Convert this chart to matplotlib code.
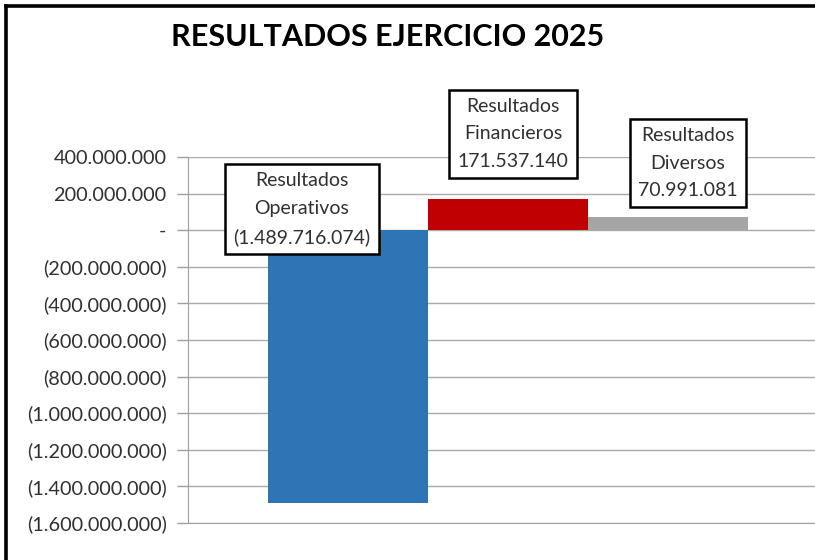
import matplotlib
matplotlib.use("Agg")
import matplotlib.pyplot as plt
from matplotlib.lines import Line2D
from matplotlib.ticker import FuncFormatter
import numpy as np

title = "RESULTADOS EJERCICIO 2025"
series_names = ["Resultados\nOperativos", "Resultados\nFinancieros", "Resultados\nDiversos"]
values = [-1489716074, 171537140, 70991081]
colors = ["#2E75B6", "#C00000", "#A5A5A5"]
yticks = [400e6, 200e6, 0, -200e6, -400e6, -600e6, -800e6, -1000e6, -1200e6, -1400e6, -1600e6]

plt.rcParams['font.family'] = ['Lato', 'DejaVu Sans']

W, H = 815, 560
fig = plt.figure(figsize=(W / 100, H / 100), dpi=100, facecolor='white', edgecolor='white')

def fmt_num(v):
    s = f"{abs(int(round(v))):,}".replace(",", ".")
    if v < 0:
        return f"({s})"
    if v == 0:
        return "-"
    return s

left_px, right_px, top_px, bot_px = 188, 815, 157, 523
px_per_unit = 160.0
ax = fig.add_axes([left_px / W, 1 - bot_px / H, (right_px - left_px) / W, (bot_px - top_px) / H])

x = np.arange(len(values))
ax.bar(x, values, width=1.0, color=colors, zorder=2)
ax.set_xlim(-1, -1 + (right_px - left_px) / px_per_unit)
ax.set_ylim(-1600e6, 400e6)
ax.set_yticks(yticks)
ax.yaxis.set_major_formatter(FuncFormatter(lambda v, p: fmt_num(v)))
ax.set_xticks([])
ax.grid(axis='y', color='#ABABAB', linewidth=1.0, zorder=0)
for s in ['top', 'right']:
    ax.spines[s].set_visible(False)
ax.spines['left'].set_color('#A0A0A0')
ax.spines['bottom'].set_color('#A0A0A0')
ax.tick_params(axis='y', length=8, width=1, color='#A0A0A0', labelsize=14.3,
               labelcolor='#303030', pad=7.4)
ax.set_axisbelow(True)

offsets = [(-46, 21), (5, 65), (20, 54)]
for i, (name, v) in enumerate(zip(series_names, values)):
    base = v if v > 0 else 0
    ax.annotate(f"{name}\n{fmt_num(v)}", xy=(x[i], base), xytext=offsets[i],
                textcoords='offset pixels', ha='center', va='center',
                fontsize=14, color='#303030', linespacing=1.75, zorder=5,
                bbox=dict(boxstyle='square,pad=0.42', facecolor='white',
                          edgecolor='black', linewidth=1.8))

fig.text(388 / W, 1 - 37 / H, title, ha='center', va='center',
         fontsize=22, fontweight='bold', color='black')

# outer chart border: only its left and top edges fall inside the picture
bx, by = 5.5 / W, 1 - 5.5 / H
fig.add_artist(Line2D([bx, bx], [0, by], transform=fig.transFigure,
                      color='black', linewidth=2.6))
fig.add_artist(Line2D([bx, 1], [by, by], transform=fig.transFigure,
                      color='black', linewidth=2.6))

fig.savefig("out.png", dpi=100, facecolor='white', edgecolor='white')
